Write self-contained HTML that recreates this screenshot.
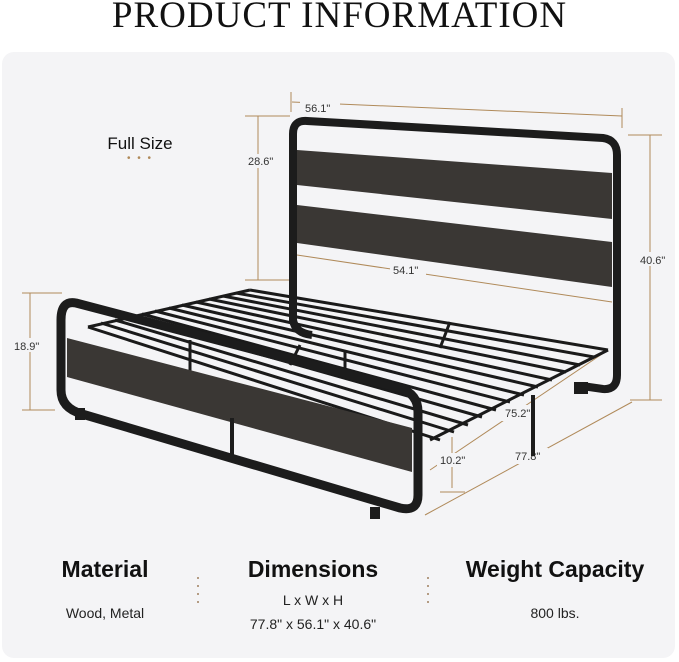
<!DOCTYPE html>
<html><head><meta charset="utf-8"><style>
body{margin:0;width:679px;height:662px;background:#fff;position:relative;overflow:hidden;font-family:"Liberation Sans",sans-serif}
.title{position:absolute;top:-6px;left:0;width:679px;text-align:center;font-family:"Liberation Serif",serif;font-size:37px;letter-spacing:1px;color:#111}
.panel{position:absolute;left:2px;top:52px;width:673px;height:606px;background:#f4f4f6;border-radius:12px}
.t{position:absolute;text-align:center;color:#111}
.h{font-weight:bold;font-size:23px}
.s{font-size:14px;color:#222}
.dots{position:absolute;width:2px}
.dots i{display:block;width:2px;height:2px;background:#a08060;margin-bottom:6px;border-radius:1px}
</style></head><body>
<div class="title">PRODUCT INFORMATION</div>
<div class="panel"></div>
<div class="t" style="left:90px;top:134px;width:100px;font-size:17px">Full Size</div>
<div class="t" style="left:90px;top:153px;width:100px;font-size:10px;color:#b08a5a;letter-spacing:2px">• • •</div>
<svg style="position:absolute;left:0;top:0" width="679" height="662">
<g stroke="#b08a5a" stroke-width="1" fill="none">
<path d="M292 102 L622 116 M291 92V112 M622 108V128"/>
<path d="M245 116H290 M258 116V280 M245 280H290"/>
<path d="M628 135H662 M650 135V400 M630 400H662"/>
<path d="M297 255 L612 302"/>
<path d="M22 293H62 M30 293V410 M22 410H55"/>
<path d="M452 488V437 M440 492H465"/>
<path d="M425 515 L632 402"/>
<path d="M430 470 L608 350"/>
</g>
<g fill="#f4f4f6"><rect x="300" y="100" width="40" height="14"/><rect x="637" y="252" width="32" height="14"/><rect x="5" y="338" width="34" height="14"/><rect x="248" y="154" width="36" height="14"/><rect x="390" y="262" width="36" height="16"/><rect x="500" y="405" width="36" height="16"/><rect x="437" y="453" width="32" height="14"/><rect x="512" y="448" width="36" height="16"/></g>
<g font-family="Liberation Sans" font-size="11" fill="#333">
<text x="305" y="112">56.1"</text><text x="248" y="165">28.6"</text><text x="640" y="264">40.6"</text><text x="14" y="350">18.9"</text><text x="393" y="274">54.1"</text><text x="505" y="417">75.2"</text><text x="440" y="464">10.2"</text><text x="515" y="460">77.8"</text>
</g>
<!-- slats -->
<g stroke="#1a1a1a" stroke-width="3">
<path d="M250 290 L608 350 M236 293 L594 357 M223 296 L580 365 M209 299 L566 372 M196 302 L552 380 M182 305 L538 387 M169 308 L524 395 M155 311 L510 402 M142 314 L496 410 M128 317 L482 417 M115 320 L468 425 M101 323 L454 432 M88 327 L440 440"/>
<path d="M250 290 L88 327 M608 350 L430 440 M450 322 L440 348 M345 352 L345 378 M190 340V395 M290 365 L300 345"/>
</g>
<!-- headboard -->
<path d="M293 323 V134 Q293 120 307 121 L603 138 Q617 140 617 155 V375 Q617 390 603 389 L582 386" stroke="#1c1c1c" stroke-width="8" fill="none"/>
<path d="M297 150 L612 173 L612 219 L297 185Z" fill="#3a3734"/>
<path d="M297 205 L612 242 L612 287 L297 243Z" fill="#3a3734"/>
<path d="M293 320 Q295 333 312 335" stroke="#1c1c1c" stroke-width="8" fill="none"/>
<rect x="574" y="382" width="14" height="12" fill="#1c1c1c"/>
<line x1="533" y1="395" x2="533" y2="456" stroke="#1c1c1c" stroke-width="4"/>
<!-- footboard -->
<path d="M76 303 L400 388 Q418 394 418 412 V495 Q418 512 400 508 L82 414 Q61 408 61 390 V320 Q61 300 76 303Z" stroke="#1c1c1c" stroke-width="9" fill="none"/>
<path d="M67 338 L412 428 L412 472 L67 377Z" fill="#3a3734"/>
<line x1="232" y1="418" x2="232" y2="462" stroke="#1c1c1c" stroke-width="4"/>
<rect x="75" y="408" width="10" height="12" fill="#1c1c1c"/>
<rect x="370" y="507" width="10" height="12" fill="#1c1c1c"/>
</svg>
<div class="t h" style="left:30px;top:556px;width:150px">Material</div>
<div class="t s" style="left:30px;top:605px;width:150px">Wood, Metal</div>
<div class="dots" style="left:197px;top:577px"><i></i><i></i><i></i><i></i></div>
<div class="t h" style="left:228px;top:556px;width:170px">Dimensions</div>
<div class="t s" style="left:228px;top:592px;width:170px">L x W x H</div>
<div class="t s" style="left:228px;top:616px;width:170px">77.8" x 56.1" x 40.6"</div>
<div class="dots" style="left:427px;top:577px"><i></i><i></i><i></i><i></i></div>
<div class="t h" style="left:445px;top:556px;width:220px">Weight Capacity</div>
<div class="t s" style="left:445px;top:605px;width:220px">800 lbs.</div>
</body></html>
